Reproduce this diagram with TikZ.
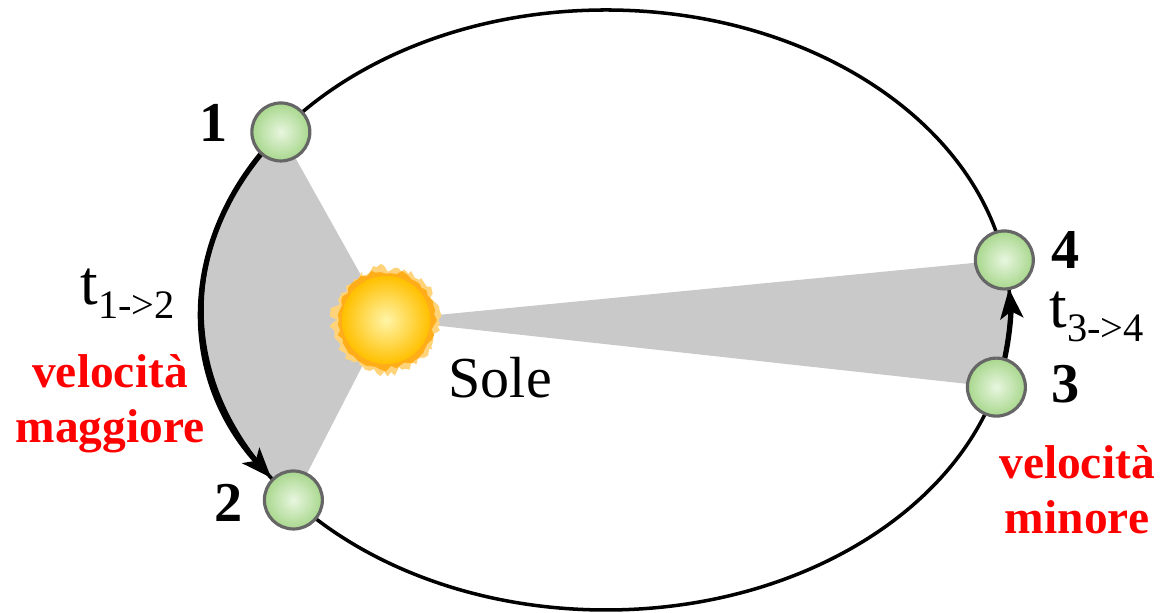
\documentclass[tikz,border=0pt]{standalone}
\usepackage{fontspec}
\setmainfont{Liberation Serif}
\usetikzlibrary{positioning,arrows.meta}
\definecolor{wedgegray}{HTML}{C9C9C9}
\definecolor{planetin}{HTML}{E8F6DF}
\definecolor{planetout}{HTML}{A8D78D}
\definecolor{planetedge}{HTML}{666666}
\definecolor{sunin}{HTML}{FFF4A8}
\definecolor{sunout}{HTML}{FFC000}
\definecolor{flare}{HTML}{FFAE1A}
\definecolor{glow}{HTML}{FFD37A}
\begin{document}
\begin{tikzpicture}[node distance=0.2cm,
    planet/.style={circle, draw=planetedge, line width=0.9pt, inner color=planetin, outer color=planetout, minimum size=0.58cm, inner sep=0pt},
    num/.style={font=\fontsize{16}{16}\selectfont\bfseries, inner sep=0pt},
    tlabel/.style={font=\fontsize{18}{18}\selectfont, inner sep=0pt, anchor=base west},
    speed/.style={font=\fontsize{13.5}{15.6}\selectfont\bfseries, text=red, align=center, inner sep=0pt, anchor=north},
    orbit/.style={line width=1pt},
    motion/.style={line width=1.5pt, -{Stealth[length=8.5pt, width=6.5pt, inset=2pt]}}]

  \useasboundingbox (0,0) rectangle (11.69,6.13);
  \coordinate (O) at (6.06,3.03);
  \coordinate (S) at (3.86,2.93);

  % points on the orbit
  \coordinate (o1) at ([shift={(143.6:4.04 and 3)}]O);
  \coordinate (o2) at ([shift={(219.3:4.04 and 3)}]O);
  \coordinate (o3) at ([shift={(-14.9:4.04 and 3)}]O);
  \coordinate (o4) at ([shift={(9.6:4.04 and 3)}]O);
  \coordinate (a1) at ([shift={(148.5:4.04 and 3)}]O);
  \coordinate (a3) at ([shift={(-9.4:4.04 and 3)}]O);

  % swept areas
  \fill[wedgegray] (S) -- (o1) arc[start angle=143.6, end angle=219.3, x radius=4.04, y radius=3] -- cycle;
  \fill[wedgegray] (S) -- (o3) arc[start angle=-14.9, end angle=9.6, x radius=4.04, y radius=3] -- cycle;

  \draw[orbit] (O) ellipse [x radius=4.04, y radius=3];
  \draw[motion] (a1) arc[start angle=148.5, end angle=214, x radius=4.04, y radius=3];
  \draw[motion] (a3) arc[start angle=-9.4, end angle=4.1, x radius=4.04, y radius=3];

  % sun
  \begin{scope}[shift={(S)}]
    \fill[glow] plot[domain=0:356, samples=90] (\x:{0.48+0.09*rnd}) -- cycle;
    \fill[flare] plot[domain=0:354, samples=60] (\x:{0.46+0.06*rnd}) -- cycle;
  \end{scope}
  \node[circle, inner color=sunin, outer color=sunout, minimum size=0.88cm, inner sep=0pt] (sun) at (S) {};
  \node[anchor=base west, font=\fontsize{16.5}{16.5}\selectfont, inner sep=0pt] (sole) at ([shift={(0.62,-0.78)}]sun) {Sole};

  \node[planet] (p1) at (o1) {};
  \node[planet] (p2) at (o2) {};
  \node[planet] (p3) at (o3) {};
  \node[planet] (p4) at (o4) {};

  \node[num, left=0.22cm of p1, yshift=0.09cm] (n1) {1};
  \node[num, left=0.19cm of p2, yshift=-0.03cm] (n2) {2};
  \node[num, right=0.24cm of p3, yshift=0.03cm] (n3) {3};
  \node[num, right=0.16cm of p4, yshift=0.1cm] (n4) {4};

  \node[tlabel] (t12) at (0.80,3.08) {t\raisebox{-3.8pt}{\fontsize{11.5}{11.5}\selectfont 1->2}};
  \node[tlabel] (t34) at (10.49,2.85) {t\raisebox{-3.8pt}{\fontsize{11.5}{11.5}\selectfont 3->4}};

  \node[speed] (fast) at (1.10,2.59) {velocità\\maggiore};
  \node[speed] (slow) at (10.77,1.68) {velocità\\minore};
\end{tikzpicture}
\end{document}
